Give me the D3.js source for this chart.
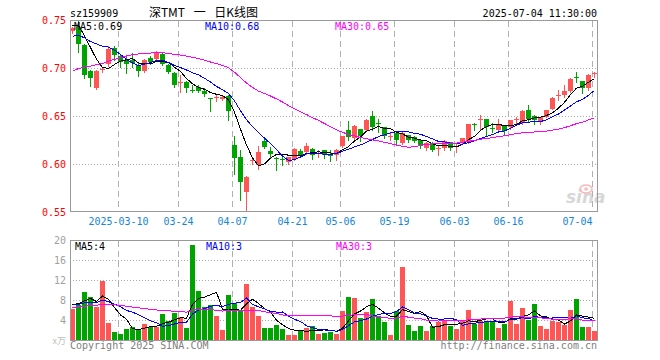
<!DOCTYPE html>
<html><head><meta charset="utf-8">
<script src="https://cdn.jsdelivr.net/npm/d3@7"></script>
<style>
html,body{margin:0;padding:0;background:#fff;}
svg{display:block;}
text{font-family:"DejaVu Sans Mono","Liberation Mono",monospace;font-size:10px;}
</style></head><body>
<svg id="chart" width="660" height="360"></svg>
<script>
// ---------- data ----------
const symbol = "sz159909";
const title = "深TMT 一 日K线图";
const stamp = "2025-07-04 11:30:00";
const months = ["2025-02","2025-03","2025-04","2025-05","2025-06","2025-07"];
const monthDays = [
  [26,27,28],
  [3,4,5,6,7,10,11,12,13,14,17,18,19,20,21,24,25,26,27,28,31],
  [1,2,3,7,8,9,10,11,14,15,16,17,18,21,22,23,24,25,28,29,30],
  [6,7,8,9,12,13,14,15,16,19,20,21,22,23,26,27,28,29,30],
  [3,4,5,6,9,10,11,12,13,16,17,18,19,20,23,24,25,26,27,30],
  [1,2,3,4]
];
const open  = [0.739,0.743,0.725,0.697,0.680,0.699,0.705,0.721,0.713,0.709,0.7086,0.7034,0.6976,0.7114,0.7103,0.7155,0.7034,0.6955,0.6852,0.6862,0.6776,0.6803,0.677,0.6695,0.669,0.668,0.6712,0.6208,0.6076,0.5712,0.6035,0.5990,0.6250,0.6139,0.6072,0.6053,0.6024,0.6059,0.6139,0.6128,0.6163,0.6114,0.6146,0.6097,0.6094,0.6188,0.6358,0.6281,0.6368,0.6358,0.6503,0.6429,0.6392,0.6292,0.633,0.6226,0.6306,0.6288,0.6253,0.6167,0.6219,0.6163,0.6177,0.6236,0.6188,0.6219,0.6236,0.6418,0.6462,0.6472,0.6376,0.6358,0.6399,0.6392,0.6476,0.6434,0.6566,0.6503,0.6444,0.6497,0.6583,0.6719,0.6722,0.6767,0.6908,0.6872,0.6792,0.6944];
const high  = [0.743,0.750,0.726,0.698,0.698,0.702,0.723,0.723,0.7155,0.713,0.716,0.707,0.710,0.7125,0.718,0.716,0.705,0.6966,0.6931,0.6865,0.6828,0.6828,0.680,0.6697,0.672,0.672,0.6722,0.6299,0.6153,0.5885,0.6076,0.6188,0.6285,0.6181,0.6076,0.6076,0.6083,0.617,0.6163,0.6222,0.6174,0.6153,0.6146,0.6146,0.6163,0.6302,0.6451,0.641,0.6375,0.6469,0.6559,0.6479,0.6392,0.6323,0.633,0.634,0.6306,0.6295,0.626,0.6236,0.6236,0.6191,0.626,0.6236,0.6219,0.6281,0.6427,0.6434,0.6514,0.6472,0.6434,0.6469,0.6399,0.6462,0.6497,0.6566,0.6618,0.6514,0.6497,0.6566,0.6698,0.6774,0.6826,0.6896,0.6965,0.6872,0.6941,0.6965];
const low   = [0.737,0.717,0.690,0.682,0.679,0.696,0.703,0.709,0.702,0.6955,0.7017,0.692,0.6966,0.705,0.709,0.7034,0.6948,0.6803,0.6759,0.676,0.6755,0.6755,0.671,0.6556,0.666,0.667,0.6462,0.5906,0.5632,0.5514,0.6007,0.5955,0.6174,0.6076,0.5944,0.600,0.6007,0.6052,0.6076,0.6111,0.6059,0.6083,0.6069,0.6035,0.6042,0.6184,0.6253,0.6253,0.6243,0.6347,0.6358,0.634,0.6271,0.6253,0.6201,0.6212,0.6236,0.6236,0.6167,0.6156,0.6142,0.6104,0.6156,0.6149,0.6132,0.6212,0.6226,0.6358,0.6375,0.6306,0.634,0.634,0.6306,0.6375,0.6427,0.642,0.6444,0.6427,0.6427,0.649,0.6573,0.667,0.6698,0.6757,0.6861,0.6747,0.6774,0.6913];
const close = [0.742,0.726,0.693,0.690,0.697,0.700,0.720,0.714,0.707,0.7045,0.706,0.6976,0.7093,0.707,0.7162,0.7045,0.6959,0.6828,0.6855,0.6793,0.6772,0.6766,0.673,0.6688,0.670,0.6705,0.6556,0.6069,0.5816,0.5868,0.6042,0.6128,0.6181,0.6111,0.6069,0.6049,0.6076,0.6163,0.6094,0.6188,0.6094,0.6125,0.6101,0.6094,0.6153,0.6292,0.6288,0.6403,0.6295,0.6462,0.6392,0.6427,0.6295,0.6299,0.6253,0.6323,0.6253,0.6247,0.6201,0.6219,0.6149,0.6167,0.6247,0.6167,0.6191,0.6271,0.6420,0.6417,0.6479,0.6392,0.6375,0.6427,0.6351,0.6462,0.6479,0.6556,0.6479,0.6462,0.649,0.6566,0.6694,0.6722,0.6767,0.6889,0.6906,0.6792,0.6931,0.6948];
const volume = [6.33,7.2,9.8,8.8,6.8,12.0,3.6,1.8,1.4,2.4,2.8,2.4,3.4,2.8,2.8,5.4,4.0,5.6,4.8,2.6,19.2,10.0,6.8,7.2,5.0,2.2,9.2,7.6,6.2,11.4,6.8,5.0,2.6,2.6,3.2,2.4,1.2,1.0,2.0,2.6,3.0,1.4,1.6,1.8,1.4,6.0,8.8,8.6,4.6,5.8,8.4,5.0,3.8,1.2,6.0,14.8,3.2,2.0,3.0,2.0,3.0,3.8,4.0,3.0,2.4,4.0,6.2,3.4,4.0,4.0,4.0,2.6,3.4,8.0,3.4,6.6,4.2,7.4,3.0,2.4,4.0,3.8,3.2,6.2,8.4,2.8,2.8,2.0];
// closes / volumes of the 29 sessions before the window (estimated from the MA curves' starting levels)
const priorCloses = [0.648,0.650,0.655,0.656,0.658,0.652,0.655,0.657,0.650,0.664,0.675,0.688,0.700,0.702,0.710,0.712,0.718,0.705,0.712,0.718,0.715,0.720,0.728,0.722,0.725,0.728,0.745,0.752,0.758];
const priorVolumes = [4.2,5.0,4.6,5.4,4.8,5.2,4.9,5.3,6.8,7.6,7.0,8.2,6.6,7.4,7.8,6.9,7.2,6.9,6.4,6.8,7.8,6.9,7.6,7.2,7.5,6.3,7.1,6.4,9.9];
const maPeriods = [5,10,30];
const maColors = ["#000000","#0000ff","#ff00ff"];
const priceMaLabels = ["MA5:0.69","MA10:0.68","MA30:0.65"];
const volMaLabels = ["MA5:4","MA10:3","MA30:3"];
const tickDates  = ["2025-03-10","2025-03-24","2025-04-07","2025-04-21","2025-05-06","2025-05-19","2025-06-03","2025-06-16","2025-07-04"];
const tickLabels = ["2025-03-10","03-24","04-07","04-21","05-06","05-19","06-03","06-16","07-04"];
const priceTicks = [0.55,0.60,0.65,0.70,0.75];
const volTicks = [4,8,12,16,20];

// ---------- build ----------
const dates = [];
months.forEach((m,k)=>monthDays[k].forEach(d=>dates.push(m+"-"+String(d).padStart(2,"0"))));
const bars = dates.map((d,i)=>({date:d,i,o:open[i],h:high[i],l:low[i],c:close[i],v:volume[i]}));

function movingAvg(series, prior, n){
  const all = prior.concat(series), off = prior.length;
  return series.map((_,i)=>d3.mean(all.slice(off+i-n+1, off+i+1)));
}

const UP = "#ff5555", DOWN = "#00a400", GRID = "#aaaaaa", FRAME = "#999999";
const L = 70, R = 597.5;
const svg = d3.select("#chart");

const x = d3.scaleLinear().domain([0, dates.length]).range([L, L + 6*dates.length]);
const y = d3.scaleLinear().domain([0.55,0.75]).range([212.5,20.5]);
const vy = d3.scaleLinear().domain([0,20]).range([340.5,240.5]);
const bw = 5;
const cx = i => x(i) + 2.5;

// header
svg.append("text").attr("x",L).attr("y",16.5).attr("fill","#000").text(symbol);
svg.append("text").attr("x",203.5).attr("y",17).attr("text-anchor","middle")
  .style("font-family","'Noto Sans CJK SC',sans-serif").style("font-size","12px").style("word-spacing","6px")
  .attr("fill","#000").text(title);
svg.append("text").attr("x",597).attr("y",16.5).attr("text-anchor","end").attr("fill","#000").text(stamp);

// grids
function grid(top, bottom, yScale, hTicks){
  const g = svg.append("g").attr("shape-rendering","crispEdges");
  g.selectAll("line.h").data(hTicks).join("line")
    .attr("x1",L).attr("x2",R).attr("y1",d=>Math.round(yScale(d))-0.5).attr("y2",d=>Math.round(yScale(d))-0.5)
    .attr("stroke",GRID).attr("stroke-dasharray","1,2");
  g.selectAll("line.v").data(tickDates).join("line")
    .attr("x1",d=>x(dates.indexOf(d))+0.5).attr("x2",d=>x(dates.indexOf(d))+0.5)
    .attr("y1",top).attr("y2",bottom)
    .attr("stroke","#b0b0b0").attr("stroke-dasharray","6,4");
}
grid(20.5, 211.5, y, [0.60,0.65,0.70]);
grid(240.5, 340.5, vy, [4,8,12,16]);

// watermark
const wm = svg.append("g").attr("opacity",0.55);
wm.append("text").attr("x",566).attr("y",203).style("font-family","'DejaVu Sans',sans-serif")
  .style("font-size","17px").style("font-weight","bold").style("font-style","italic").attr("fill","#b8b8b8").text("sina");
wm.append("ellipse").attr("cx",586).attr("cy",189).attr("rx",6).attr("ry",4).attr("fill","none").attr("stroke","#f08080").attr("stroke-width",1.5);
wm.append("circle").attr("cx",586).attr("cy",189).attr("r",1.8).attr("fill","#f08080");

// candles
const cg = svg.append("g").attr("shape-rendering","crispEdges");
cg.selectAll("line.w").data(bars).join("line")
  .attr("x1",d=>cx(d.i)).attr("x2",d=>cx(d.i))
  .attr("y1",d=>Math.round(y(d.h))).attr("y2",d=>Math.round(y(d.l))+1)
  .attr("stroke",d=>d.c>=d.o?UP:DOWN);
cg.selectAll("rect").data(bars).join("rect")
  .attr("x",d=>x(d.i)).attr("width",bw)
  .attr("y",d=>Math.round(y(Math.max(d.o,d.c))))
  .attr("height",d=>Math.max(1, Math.round(y(Math.min(d.o,d.c))) - Math.round(y(Math.max(d.o,d.c)))))
  .attr("fill",d=>d.c>=d.o?UP:DOWN);

// volume bars
svg.append("g").attr("shape-rendering","crispEdges").selectAll("rect").data(bars).join("rect")
  .attr("x",d=>x(d.i)).attr("width",bw)
  .attr("y",d=>Math.round(vy(d.v))).attr("height",d=>Math.round(vy(0))-Math.round(vy(d.v)))
  .attr("fill",d=>d.c>=d.o?UP:DOWN);

// MA lines
maPeriods.forEach((n,k)=>{
  const pm = movingAvg(close, priorCloses, n);
  svg.append("path").datum(pm).attr("fill","none").attr("stroke",maColors[k]).attr("stroke-width",1)
    .attr("shape-rendering","crispEdges")
    .attr("d",d3.line().x((d,i)=>cx(i)).y(d=>y(d)));
  const vm = movingAvg(volume, priorVolumes, n);
  svg.append("path").datum(vm).attr("fill","none").attr("stroke",maColors[k]).attr("stroke-width",1)
    .attr("shape-rendering","crispEdges")
    .attr("d",d3.line().x((d,i)=>cx(i)).y(d=>vy(d)));
});

// frames
svg.append("g").attr("shape-rendering","crispEdges").selectAll("rect").data([[20.5,211.5],[240.5,340.5]]).join("rect")
  .attr("x",L+0.5).attr("y",d=>d[0]).attr("width",R-L-0.5).attr("height",d=>d[1]-d[0])
  .attr("fill","none").attr("stroke",FRAME);

// MA labels
const labX = [74,205,335];
priceMaLabels.forEach((t,k)=>svg.append("text").attr("x",labX[k]).attr("y",29.5).attr("fill",maColors[k]).text(t));
volMaLabels.forEach((t,k)=>svg.append("text").attr("x",labX[k]+1).attr("y",249.5).attr("fill",maColors[k]).text(t));

// axes
const ya = svg.append("g").attr("transform",`translate(${L},0)`)
  .call(d3.axisLeft(y).tickValues(priceTicks).tickFormat(d3.format(".2f")).tickSize(0).tickPadding(4));
ya.select(".domain").remove();
ya.selectAll("text").attr("fill","#ff0000").style("font-family","'DejaVu Sans Mono',monospace").style("font-size","10px");

const va = svg.append("g").attr("transform",`translate(${L},0)`)
  .call(d3.axisLeft(vy).tickValues(volTicks).tickSize(0).tickPadding(4));
va.select(".domain").remove();
va.selectAll("text").attr("fill","#a0a0a0").style("font-family","'DejaVu Sans Mono',monospace").style("font-size","10px");
svg.append("text").attr("x",66).attr("y",344).attr("text-anchor","end").attr("fill","#c0c0c0")
  .style("font-family","'Noto Sans CJK SC',sans-serif").style("font-size","9px").text("x万");

const xa = svg.append("g").attr("transform","translate(0,211)")
  .call(d3.axisBottom(x).tickValues(tickDates.map(d=>dates.indexOf(d))).tickFormat((d,k)=>tickLabels[k]).tickSize(0).tickPadding(7));
xa.select(".domain").remove();
xa.selectAll(".tick").attr("transform",d=>`translate(${x(d)+0.5},0)`);
xa.selectAll("text").attr("fill","#1585d8").style("font-family","'DejaVu Sans Mono',monospace").style("font-size","10px")
  .attr("text-anchor",(d,k)=>k===tickLabels.length-1?"end":"middle");

// footer
svg.append("text").attr("x",L).attr("y",349).attr("fill","#808080").text("Copyright 2025 SINA.COM");
svg.append("text").attr("x",597).attr("y",349).attr("text-anchor","end").attr("fill","#808080").text("http://finance.sina.com.cn");
</script>
</body></html>
